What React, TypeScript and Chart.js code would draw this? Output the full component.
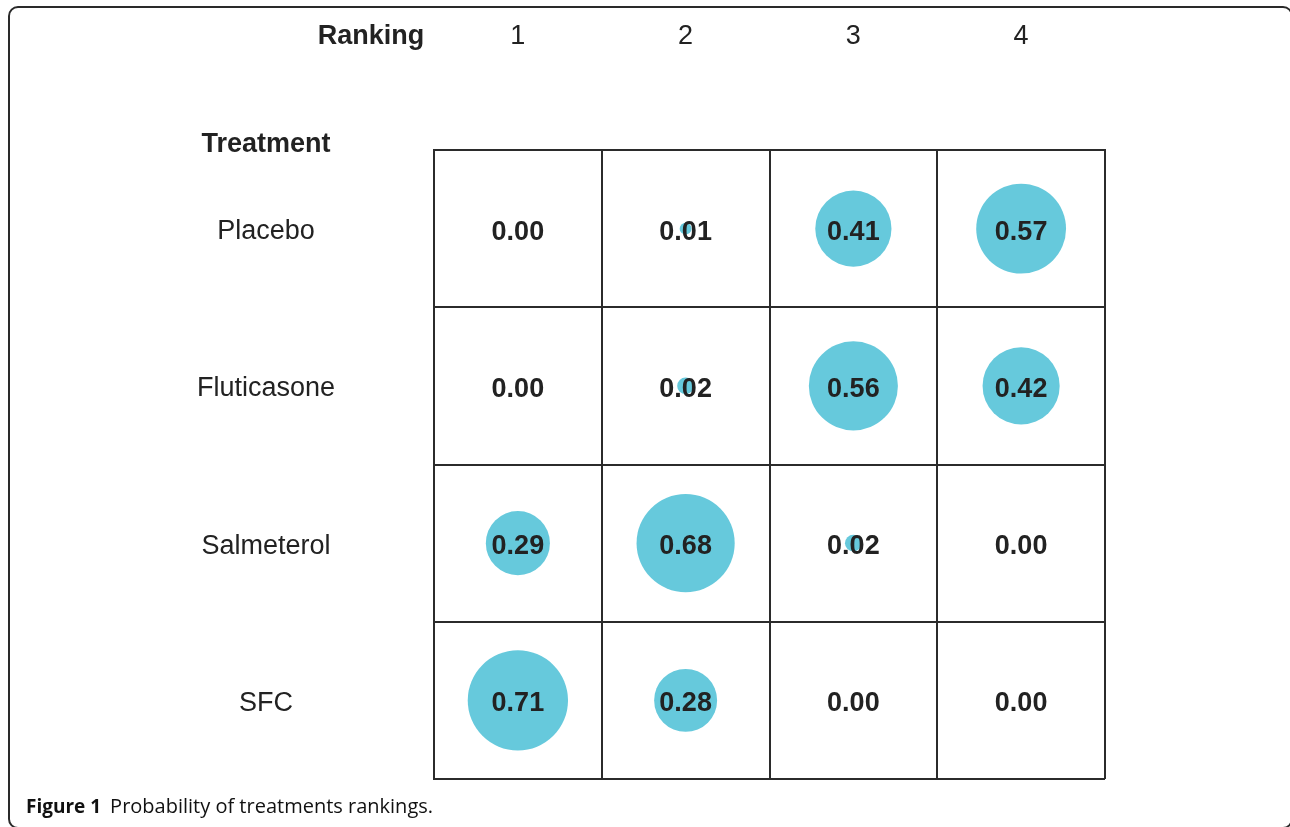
import React, { useEffect, useRef } from "react";
import { Chart, registerables } from "chart.js";

Chart.register(...registerables);

const rankings = ["1", "2", "3", "4"];
const treatments = ["Placebo", "Fluticasone", "Salmeterol", "SFC"];
const placebo = [0.0, 0.01, 0.41, 0.57];
const fluticasone = [0.0, 0.02, 0.56, 0.42];
const salmeterol = [0.29, 0.68, 0.02, 0.0];
const sfc = [0.71, 0.28, 0.0, 0.0];
const rows = [placebo, fluticasone, salmeterol, sfc];

const xTitle = "Ranking";
const yTitle = "Treatment";
const captionBold = "Figure 1";
const captionText = "Probability of treatments rankings.";

const SANS = "'Liberation Sans', Arial, Helvetica, sans-serif";
const INK = "#222222";
const BUBBLE = "#66c9dc";
const GRID = "#2b2b2b";

export default function App() {
  const ref = useRef<HTMLCanvasElement | null>(null);

  useEffect(() => {
    const canvas = ref.current;
    if (!canvas) return;

    const m = document.createElement("canvas").getContext("2d")!;
    m.font = `27px ${SANS}`;
    let widest = 0;
    treatments.forEach((t) => (widest = Math.max(widest, m.measureText(t).width)));
    const yPad = 434 - 266 - widest / 2;

    const points: { x: string; y: string; r: number }[] = [];
    rows.forEach((vals, ri) =>
      vals.forEach((v, ci) => {
        if (v > 0) points.push({ x: rankings[ci], y: treatments[ri], r: 59.5 * Math.sqrt(v) });
      })
    );

    const textPlugin = {
      id: "gridText",
      afterDatasetsDraw(chart: any) {
        const ctx = chart.ctx;
        const xs = chart.scales.x;
        const ys = chart.scales.y;
        ctx.save();
        ctx.fillStyle = INK;
        ctx.font = `bold 27px ${SANS}`;
        ctx.textAlign = "center";
        ctx.textBaseline = "middle";
        rows.forEach((vals, ri) =>
          vals.forEach((v, ci) => {
            ctx.fillText(v.toFixed(2), xs.getPixelForValue(ci), ys.getPixelForValue(ri) + 3.5);
          })
        );
        ctx.textBaseline = "alphabetic";
        ctx.fillText(xTitle, 371, 44);
        ctx.fillText(yTitle, 266, 152);
        ctx.textAlign = "left";
        ctx.fillStyle = "#111";
        ctx.font = `bold 19px 'Open Sans', sans-serif`;
        ctx.fillText(captionBold, 26, 813);
        const w = ctx.measureText(captionBold).width;
        ctx.font = `20px 'Open Sans', sans-serif`;
        ctx.fillText(captionText, 26 + w + 9, 813);
        ctx.restore();
      },
    };

    const chart = new Chart(canvas, {
      type: "bubble",
      data: {
        datasets: [
          {
            data: points as any,
            backgroundColor: BUBBLE,
            borderWidth: 0,
            hoverBorderWidth: 0,
            hoverRadius: 0,
          } as any,
        ],
      },
      options: {
        animation: false,
        responsive: false,
        maintainAspectRatio: false,
        devicePixelRatio: 1,
        events: [],
        layout: { autoPadding: false, padding: { left: 0, top: 0, right: 185, bottom: 48 } } as any,
        plugins: { legend: { display: false }, tooltip: { enabled: false } },
        scales: {
          x: {
            type: "category",
            labels: rankings,
            position: "top",
            offset: true,
            grid: { offset: true, color: GRID, lineWidth: 2, drawTicks: false, tickLength: 0 },
            border: { display: true, color: GRID, width: 2 },
            ticks: { color: INK, font: { family: SANS, size: 27 }, padding: 97 },
            afterFit(scale: any) {
              scale.height = 150;
              scale.paddingLeft = 0;
              scale.paddingRight = 0;
            },
          } as any,
          y: {
            type: "category",
            labels: treatments,
            position: "left",
            offset: true,
            grid: { offset: true, color: GRID, lineWidth: 2, drawTicks: false, tickLength: 0 },
            border: { display: true, color: GRID, width: 2 },
            ticks: {
              color: INK,
              font: { family: SANS, size: 27 },
              crossAlign: "center",
              padding: yPad,
              labelOffset: 3,
            },
            afterFit(scale: any) {
              scale.width = 434;
              scale.paddingTop = 0;
              scale.paddingBottom = 0;
            },
          } as any,
        },
      },
      plugins: [textPlugin],
    });

    return () => chart.destroy();
  }, []);

  return (
    <div style={{ position: "absolute", left: 0, top: 0, width: 1290, height: 827, overflow: "hidden", background: "#fff" }}>
      <canvas ref={ref} width={1290} height={827} style={{ display: "block", width: 1290, height: 827 }} />
      <div
        style={{
          position: "absolute",
          left: 8,
          top: 6,
          width: 1285,
          height: 823,
          boxSizing: "border-box",
          border: "2px solid #2a2a2a",
          borderRadius: 10,
          pointerEvents: "none",
        }}
      />
    </div>
  );
}
